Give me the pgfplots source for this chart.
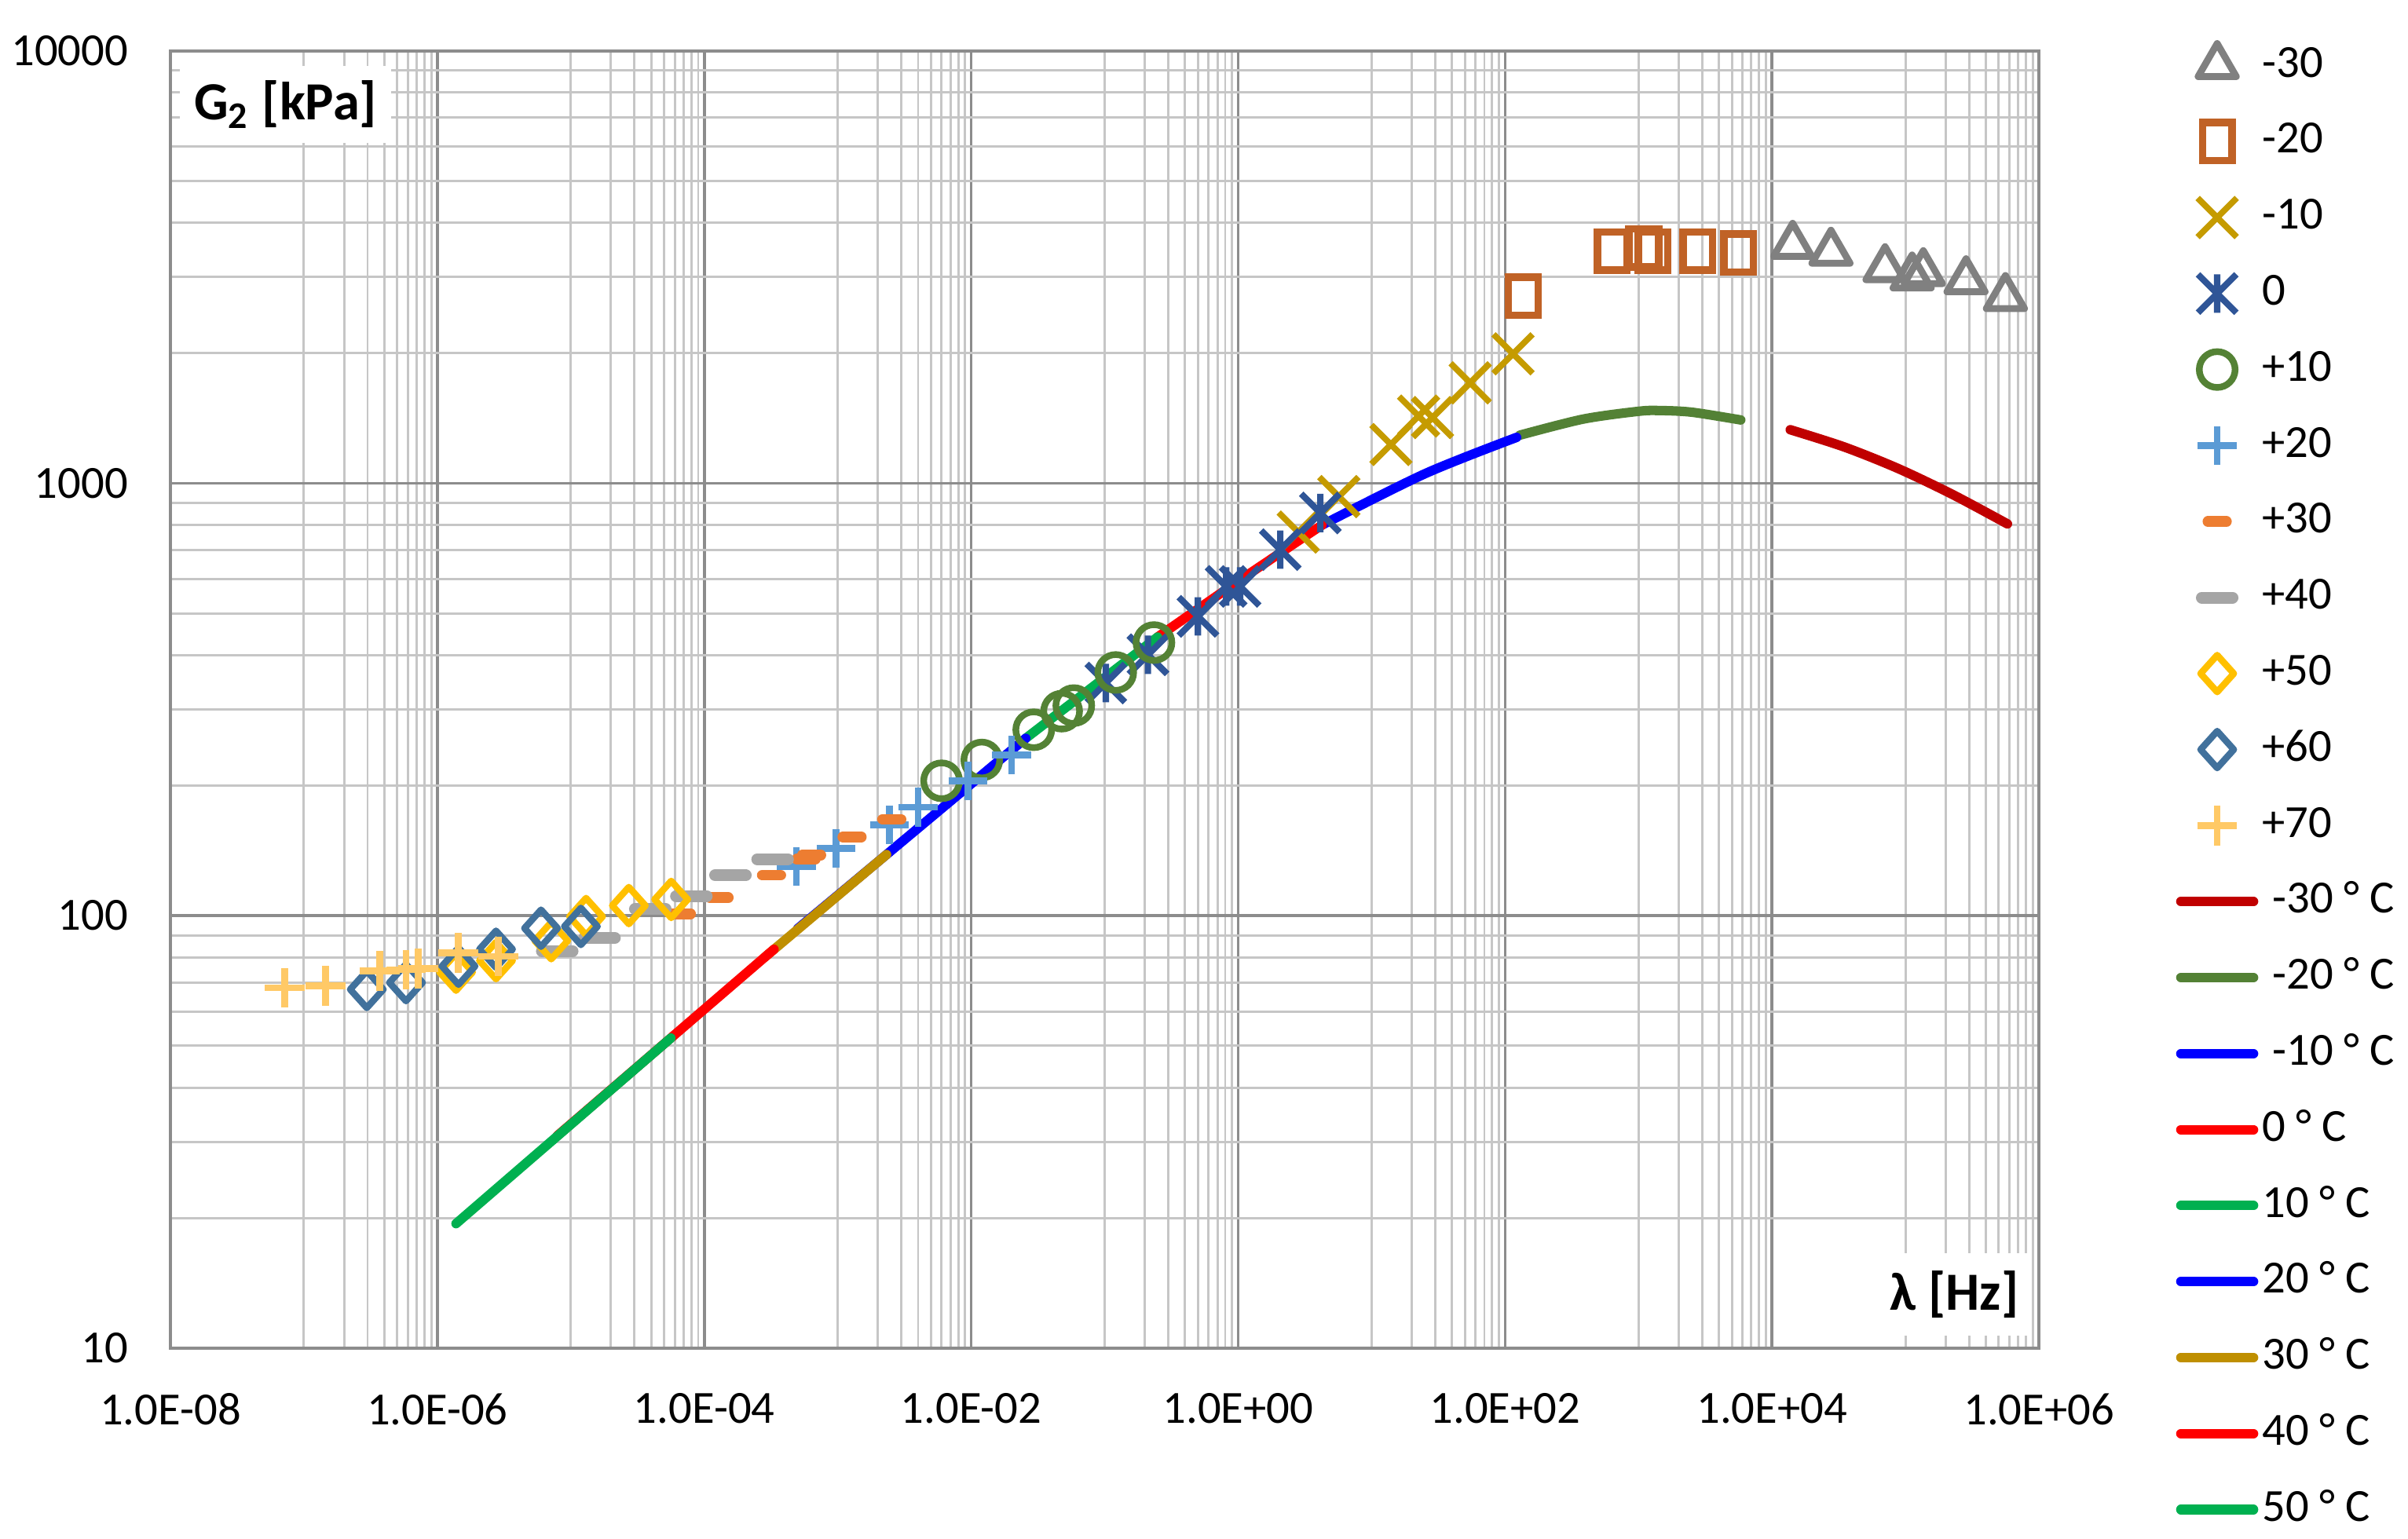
\documentclass[border=0pt]{standalone}
\usepackage{fontspec}
\setmainfont{Carlito}
\usepackage{pgfplots}
\pgfplotsset{compat=1.18}

\definecolor{cm30}{RGB}{128,128,128}
\definecolor{cm20}{RGB}{192,98,38}
\definecolor{cm10}{RGB}{197,155,0}
\definecolor{czero}{RGB}{47,85,151}
\definecolor{cp10}{RGB}{84,130,53}
\definecolor{cp20}{RGB}{91,155,213}
\definecolor{cp30}{RGB}{237,125,49}
\definecolor{cp40}{RGB}{165,165,165}
\definecolor{cp50}{RGB}{255,192,0}
\definecolor{cp60}{RGB}{65,113,156}
\definecolor{cp70}{RGB}{255,201,102}
\definecolor{lm30}{RGB}{192,0,0}
\definecolor{lm20}{RGB}{83,129,53}
\definecolor{lblue}{RGB}{0,0,255}
\definecolor{lred}{RGB}{255,0,0}
\definecolor{lgreen}{RGB}{0,176,80}
\definecolor{lgold}{RGB}{191,143,0}
\definecolor{gridmaj}{RGB}{140,140,140}
\definecolor{gridmin}{RGB}{198,198,198}

% Excel-like "star" marker: an x with a vertical bar
\pgfdeclareplotmark{xstar}{%
  \pgfpathmoveto{\pgfqpoint{-.7071\pgfplotmarksize}{-.7071\pgfplotmarksize}}%
  \pgfpathlineto{\pgfqpoint{.7071\pgfplotmarksize}{.7071\pgfplotmarksize}}%
  \pgfpathmoveto{\pgfqpoint{-.7071\pgfplotmarksize}{.7071\pgfplotmarksize}}%
  \pgfpathlineto{\pgfqpoint{.7071\pgfplotmarksize}{-.7071\pgfplotmarksize}}%
  \pgfpathmoveto{\pgfqpoint{0pt}{-.7071\pgfplotmarksize}}%
  \pgfpathlineto{\pgfqpoint{0pt}{.7071\pgfplotmarksize}}%
  \pgfusepathqstroke}

\pgfplotsset{
  curve/.style={line width=1.85pt, line cap=round, line join=round, forget plot},
  curveleg/.style={line width=1.85pt, line cap=round},
}

\begin{document}
\begin{tikzpicture}
\begin{axis}[
    name=ax,
    scale only axis, width=365pt, height=253.5pt,
    xmode=log, ymode=log,
    xmin=1e-8, xmax=1e6, ymin=10, ymax=10000,
    xtick={1e-8,1e-6,1e-4,1e-2,1,1e2,1e4,1e6},
    xticklabels={1.0E-08,1.0E-06,1.0E-04,1.0E-02,1.0E+00,1.0E+02,1.0E+04,1.0E+06},
    minor xtick={1e-7,2e-7,3e-7,4e-7,5e-7,6e-7,7e-7,8e-7,9e-7,
                 1e-5,2e-5,3e-5,4e-5,5e-5,6e-5,7e-5,8e-5,9e-5,
                 1e-3,2e-3,3e-3,4e-3,5e-3,6e-3,7e-3,8e-3,9e-3,
                 0.1,0.2,0.3,0.4,0.5,0.6,0.7,0.8,0.9,
                 10,20,30,40,50,60,70,80,90,
                 1000,2000,3000,4000,5000,6000,7000,8000,9000,
                 1e5,2e5,3e5,4e5,5e5,6e5,7e5,8e5,9e5},
    ytick={10,100,1000,10000},
    yticklabels={10,100,1000,10000},
    minor ytick={20,30,40,50,60,70,80,90,200,300,400,500,600,700,800,900,
                 2000,3000,4000,5000,6000,7000,8000,9000},
    grid=both,
    major grid style={line width=0.55pt, color=gridmaj},
    minor grid style={line width=0.45pt, color=gridmin},
    axis line style={line width=0.6pt, color=gridmaj},
    major tick length=0pt, minor tick length=0pt,
    tick label style={font=\fontsize{9}{10.8}\selectfont},
    xticklabel style={inner sep=0pt, anchor=north, yshift=-8.7pt},
    yticklabel style={inner sep=0pt, anchor=east, xshift=-8.1pt},
    legend cell align=left,
    legend image code/.code={\draw[mark repeat=2,mark phase=2,#1]
        plot coordinates {(0pt,0pt) (7.1pt,0pt) (14.2pt,0pt)};},
    legend style={
        at={(1,1)}, anchor=north west, xshift=26.8pt, yshift=1.4pt,
        draw=none, fill=none, inner sep=0pt, outer sep=0pt,
        font=\fontsize{9}{10.8}\selectfont,
        nodes={inner xsep=0.8pt, inner ysep=0pt, text height=6.5pt, text depth=2pt},
        row sep=6.35pt,
    },
]

% master-curve segments (drawn first, markers on top)
\addplot[curve, lm30, smooth] coordinates {
    (13710,1329) (34910,1212) (88720,1080) (226000,941) (580700,805)};
\addplot[curve, lm20, smooth] coordinates {
    (129,1291) (383,1406) (1000,1466) (1445,1472) (2512,1459) (5834,1400)};
\addplot[curve, lblue, smooth] coordinates {
    (4.25,800) (25.2,1052) (122,1276)};
\addplot[curve, lred, smooth] coordinates {
    (0.249,440.6) (1.0,593) (4.25,800)};
\addplot[curve, lgreen] coordinates {
    (0.0256,257) (0.249,440.6)};
\addplot[curve, lblue] coordinates {
    (5.01e-4,93.3) (2.32e-3,138.4) (0.0256,257)};
\addplot[curve, lgold] coordinates {
    (2.82e-4,80) (2.32e-3,138.4)};
\addplot[curve, lred] coordinates {
    (7.94e-6,31) (3.33e-4,83.6)};
\addplot[curve, lgreen] coordinates {
    (1.38e-6,19.4) (5.62e-5,52.1)};

% measured points
\addplot[only marks, cm30, mark=triangle, mark size=4.3pt,
    mark options={line width=1.35pt, line join=round}] coordinates {
    (14290,3548) (27670,3420) (70310,3133) (112200,2998) (136100,3068)
    (284400,2938) (561000,2687)};
\addlegendentry{-30}
\addplot[only marks, cm20, mark=square, mark size=3.7pt,
    mark options={xscale=0.78, line width=1.45pt}] coordinates {
    (137,2705) (635,3442) (1096,3497) (1282,3442) (2786,3442) (5623,3404)};
\addlegendentry{-20}
\addplot[only marks, cm10, mark=x, mark size=5.4pt,
    mark options={line width=1.2pt}] coordinates {
    (2.82,771) (5.68,931) (13.96,1228) (22.5,1429) (28.6,1418) (54.8,1706)
    (114.8,1991)};
\addlegendentry{-10}
\addplot[only marks, czero, mark=xstar, mark size=5.3pt,
    mark options={line width=1.25pt}] coordinates {
    (0.102,345) (0.211,401) (0.5,492) (0.813,577) (1.035,577) (2.07,702)
    (4.13,853)};
\addlegendentry{0}
\addplot[only marks, cp10, mark=o, mark size=3.5pt,
    mark options={line width=1.3pt}] coordinates {
    (6.0e-3,205) (1.2e-2,229) (2.94e-2,269) (4.76e-2,297) (5.87e-2,306)
    (0.121,365) (0.234,428)};
\addlegendentry{+10}
\addplot[only marks, cp20, mark=+, mark size=3.8pt,
    mark options={line width=1.3pt}] coordinates {
    (4.91e-4,130) (9.7e-4,143) (2.44e-3,162) (4.0e-3,178) (9.46e-3,205)
    (2.01e-2,235)};
\addlegendentry{+20}
\addplot[only marks, cp30, mark=-, mark size=1.8pt,
    mark options={line width=2.1pt, line cap=round}] coordinates {
    (6.73e-5,101) (1.29e-4,110) (3.19e-4,124) (5.79e-4,135) (6.37e-4,138)
    (1.28e-3,152) (2.54e-3,167)};
\addlegendentry{+30}
\addplot[only marks, cp40, mark=-, mark size=3.0pt,
    mark options={line width=2.3pt, line cap=round}] coordinates {
    (7.91e-6,82.8) (1.64e-5,88.8) (3.94e-5,103.5) (8.0e-5,111) (1.57e-4,124)
    (3.25e-4,135)};
\addlegendentry{+40}
\addplot[only marks, cp50, mark=diamond, mark size=3.6pt,
    mark options={xscale=1.2, line width=1.3pt, line join=round}] coordinates {
    (1.38e-6,74) (2.75e-6,78.7) (7.13e-6,87.5) (1.30e-5,99.5) (2.72e-5,105.5)
    (5.65e-5,109)};
\addlegendentry{+50}
\addplot[only marks, cp60, mark=diamond, mark size=3.6pt,
    mark options={xscale=1.2, line width=1.3pt, line join=round}] coordinates {
    (2.96e-7,67.5) (5.82e-7,70) (1.44e-6,76.4) (2.75e-6,83.6) (5.98e-6,93.5)
    (1.19e-5,94.4)};
\addlegendentry{+60}
\addplot[only marks, cp70, mark=+, mark size=3.9pt,
    mark options={line width=1.35pt}] coordinates {
    (7.18e-8,68.1) (1.46e-7,68.7) (3.71e-7,74.5) (5.82e-7,75) (7.21e-7,75.4)
    (1.44e-6,82) (2.86e-6,80.5)};
\addlegendentry{+70}

% legend entries of the curves
\addlegendimage{lm30, curveleg}
\addlegendentry{\hspace{2pt}-30 ° C}
\addlegendimage{lm20, curveleg}
\addlegendentry{\hspace{2pt}-20 ° C}
\addlegendimage{lblue, curveleg}
\addlegendentry{\hspace{2pt}-10 ° C}
\addlegendimage{lred, curveleg}
\addlegendentry{0 ° C}
\addlegendimage{lgreen, curveleg}
\addlegendentry{10 ° C}
\addlegendimage{lblue, curveleg}
\addlegendentry{20 ° C}
\addlegendimage{lgold, curveleg}
\addlegendentry{30 ° C}
\addlegendimage{lred, curveleg}
\addlegendentry{40 ° C}
\addlegendimage{lgreen, curveleg}
\addlegendentry{50 ° C}

\node[fill=white, inner xsep=2.8pt, inner ysep=2.8pt,
    font=\bfseries\fontsize{10.5}{12}\selectfont]
    at (rel axis cs:0.0616,0.9586) {G\textsubscript{2} [kPa]};
\node[fill=white, inner xsep=2.2pt, inner ysep=3.4pt,
    font=\bfseries\fontsize{10.5}{12}\selectfont]
    at (rel axis cs:0.9548,0.0414) {λ [Hz]};
\end{axis}
\pgfresetboundingbox
\path (ax.south west) ++(-33.3pt,-37.2pt) rectangle ++(470.4pt,300.6pt);
\end{tikzpicture}
\end{document}
